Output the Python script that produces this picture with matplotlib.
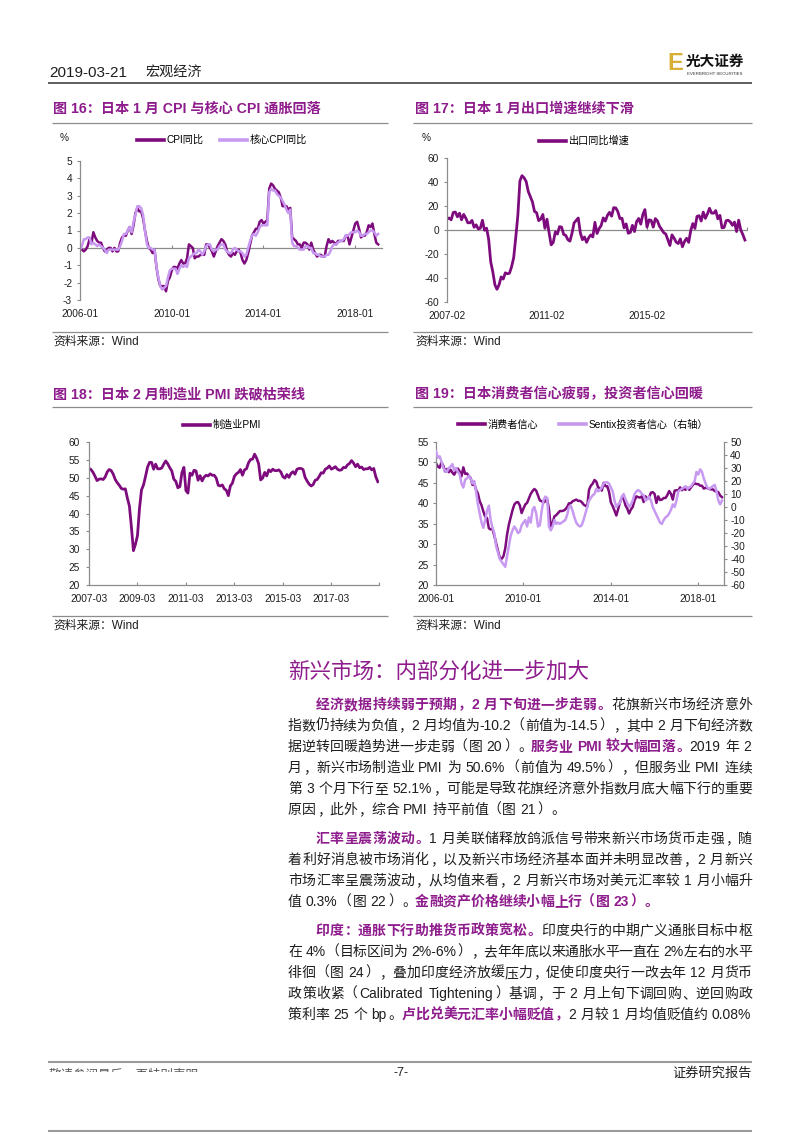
import matplotlib
matplotlib.use('Agg')
import matplotlib.pyplot as plt
import numpy as np
from matplotlib.transforms import Bbox

# ---------------------------------------------------------------- data
cpi_yoy = [
    -0.1, -0.1, -0.2, -0.1, 0.1, 0.5, 0.3, 0.9, 0.6, 0.4, 0.3, 0.3,
    0.0, -0.2, -0.1, 0.0, 0.0, -0.2, 0.0, -0.2, -0.2, 0.3, 0.6, 0.7,
    0.7, 1.0, 1.2, 0.8, 1.3, 2.0, 2.3, 2.1, 2.1, 1.7, 1.0, 0.4,
    0.0, -0.1, -0.3, -0.1, -1.1, -1.8, -2.2, -2.2, -2.2, -2.5, -1.9, -1.7,
    -1.3, -1.1, -1.1, -1.2, -0.9, -0.7, -0.9, -0.9, -0.6, 0.2, 0.1, 0.0,
    -0.6, -0.5, -0.5, -0.4, -0.4, -0.4, 0.2, 0.2, 0.0, -0.2, -0.5, -0.2,
    0.1, 0.3, 0.5, 0.4, 0.2, -0.2, -0.4, -0.5, -0.3, -0.4, -0.2, -0.1,
    -0.3, -0.7, -0.9, -0.7, -0.3, 0.2, 0.7, 0.9, 1.1, 1.1, 1.5, 1.6,
    1.4, 1.5, 1.6, 3.4, 3.7, 3.6, 3.4, 3.3, 3.2, 2.9, 2.4, 2.4,
    2.4, 2.2, 2.3, 0.6, 0.5, 0.4, 0.2, 0.2, 0.0, 0.3, 0.3, 0.2,
    -0.1, 0.3, -0.1, -0.3, -0.5, -0.4, -0.4, -0.5, -0.5, 0.1, 0.5, 0.3,
    0.4, 0.3, 0.2, 0.4, 0.4, 0.4, 0.4, 0.7, 0.7, 0.2, 0.6, 1.0,
    1.4, 1.5, 1.1, 0.6, 0.7, 0.7, 0.9, 1.3, 1.2, 1.4, 0.8, 0.3,
    0.2]
core_cpi_yoy = [
    -0.1, 0.1, 0.5, 0.5, 0.6, 0.6, 0.2, 0.3, 0.2, 0.1, 0.2, 0.1,
    0.0, -0.1, -0.3, -0.1, -0.1, -0.1, -0.1, -0.1, -0.1, 0.1, 0.4, 0.8,
    0.8, 1.0, 1.2, 0.9, 1.5, 1.9, 2.4, 2.4, 2.3, 1.9, 1.0, 0.2,
    0.0, 0.0, -0.1, -0.1, -1.1, -1.7, -2.2, -2.4, -2.3, -2.2, -1.7, -1.3,
    -1.2, -1.2, -1.2, -1.5, -1.2, -1.0, -1.1, -1.0, -1.1, -0.6, -0.5, -0.4,
    -0.3, -0.3, -0.1, -0.2, -0.4, -0.2, 0.1, 0.2, 0.2, -0.1, -0.2, -0.1,
    -0.1, 0.1, 0.2, 0.2, -0.1, -0.2, -0.3, -0.3, -0.1, 0.0, -0.1, -0.2,
    -0.2, -0.3, -0.5, -0.4, 0.0, 0.4, 0.7, 0.8, 0.7, 0.9, 1.2, 1.3,
    1.3, 1.3, 1.3, 3.2, 3.4, 3.3, 3.3, 3.1, 3.0, 2.9, 2.7, 2.5,
    2.2, 2.0, 2.2, 0.3, 0.1, 0.1, 0.0, -0.1, -0.1, -0.1, 0.1, 0.1,
    0.0, 0.0, -0.3, -0.3, -0.4, -0.4, -0.5, -0.5, -0.5, -0.4, -0.4, -0.2,
    0.1, 0.2, 0.2, 0.3, 0.4, 0.4, 0.5, 0.7, 0.7, 0.8, 0.9, 0.9,
    0.9, 1.0, 0.9, 0.7, 0.7, 0.8, 0.8, 0.9, 1.0, 1.0, 0.9, 0.7,
    0.8]
cpi_start = '2006-01'
cpi_tick_labels = ['2006-01', '2010-01', '2014-01', '2018-01']
cpi_yticks = [-3, -2, -1, 0, 1, 2, 3, 4, 5]

export_yoy = [
    9.0, 10.0, 8.5, 14.6, 15.0, 11.0, 14.0, 8.5, 13.0, 10.0, 6.0,
    6.0, 8.0, 2.3, 4.3, 0.9, 1.5, 8.1, -0.2, 1.5, -7.8, -26.7, -35.0,
    -45.7, -49.4, -45.6, -39.1, -40.9, -35.7, -36.5, -36.0, -30.6, -23.2, -6.3, 12.1,
    40.9, 45.3, 43.5, 40.4, 32.1, 27.7, 23.5, 15.5, 14.4, 7.8, 9.1, 12.9,
    1.4, 9.0, -2.2, -12.4, -10.3, -1.6, -3.4, 2.8, 2.4, -3.7, -4.5, -8.0,
    -9.3, -2.7, 5.9, 7.9, 10.0, -2.3, -8.1, -5.8, -10.3, -6.5, -4.1, -5.8,
    6.4, -2.9, 1.1, 3.8, 10.1, 7.4, 12.2, 14.7, 11.5, 18.6, 18.4, 15.3,
    9.5, 9.8, 1.8, 5.1, -2.7, -2.0, 3.9, -1.3, 6.9, 9.6, 4.9, 12.9,
    17.0, 2.4, 8.5, 8.0, 2.4, 9.5, 7.6, 3.1, 0.6, -2.2, -3.3, -8.0,
    -12.9, -4.0, -6.8, -10.1, -11.3, -7.4, -14.0, -9.6, -6.9, -10.3, -0.4, 5.4,
    1.3, 11.3, 12.0, 7.5, 14.9, 9.7, 13.4, 18.1, 14.1, 14.0, 16.2, 9.3,
    12.2, 1.8, 2.1, 7.8, 8.1, 6.7, 3.9, 6.6, -1.3, 8.2, 0.1, -3.8,
    -8.4]
export_start = '2007-02'
export_tick_labels = ['2007-02', '2011-02', '2015-02']
export_yticks = [-60, -40, -20, 0, 20, 40, 60]

pmi = [
    52.6, 52.3, 51.5, 50.4, 49.2, 49.6, 49.7, 49.5, 50.2, 51.6,
    52.3, 52.0, 51.0, 49.5, 48.6, 47.9, 47.0, 46.8, 46.9, 44.3, 42.1, 36.2,
    29.6, 31.4, 33.8, 41.4, 46.6, 48.0, 50.4, 53.0, 54.3, 54.3, 52.4, 53.8,
    52.5, 52.5, 52.7, 53.8, 54.7, 53.9, 52.8, 51.9, 49.6, 49.0, 47.2, 47.5,
    51.4, 52.9, 46.4, 45.7, 51.3, 50.7, 52.1, 51.9, 49.3, 50.6, 49.1, 50.2,
    50.7, 50.5, 51.1, 50.7, 50.7, 49.9, 47.9, 47.7, 48.0, 46.9, 46.5, 45.0,
    47.7, 48.5, 50.4, 51.1, 51.5, 52.3, 50.7, 52.2, 52.5, 54.2, 55.1, 55.2,
    56.6, 55.5, 53.9, 49.4, 49.9, 51.5, 50.5, 52.2, 51.7, 52.4, 52.0, 52.0,
    52.2, 51.6, 50.3, 49.9, 50.9, 50.1, 51.2, 51.7, 51.0, 52.4, 52.6, 52.6,
    52.3, 50.1, 49.1, 48.2, 47.7, 48.1, 49.3, 49.5, 50.4, 51.4, 51.3, 52.4,
    52.7, 53.3, 52.4, 52.7, 53.1, 52.4, 52.1, 52.2, 52.9, 52.8, 53.6, 54.0,
    54.8, 54.1, 53.1, 53.8, 52.8, 53.0, 52.3, 52.5, 52.5, 52.9, 52.2, 52.6,
    50.3, 48.9]
pmi_start = '2007-03'
pmi_tick_labels = ['2007-03', '2009-03', '2011-03', '2013-03', '2015-03', '2017-03']
pmi_yticks = [20, 25, 30, 35, 40, 45, 50, 55, 60]

consumer_conf = [
    49.8, 49.0, 48.7, 50.0, 49.2, 47.8, 48.4, 47.6, 48.2, 47.5, 47.0, 47.9,
    48.5, 47.8, 46.6, 48.8, 47.2, 47.3, 46.7, 46.2, 44.5, 44.8, 43.3, 42.4,
    40.5, 39.5, 38.0, 36.7, 36.4, 33.9, 33.6, 33.8, 32.1, 30.2, 28.4, 26.7,
    26.4, 27.0, 28.9, 32.3, 34.8, 36.6, 38.3, 39.7, 40.2, 40.3, 39.5, 37.6,
    38.7, 39.7, 40.1, 41.2, 42.3, 43.0, 43.5, 43.1, 41.9, 40.7, 40.5, 40.2,
    40.5, 41.0, 38.6, 34.1, 35.2, 36.8, 37.1, 37.6, 38.1, 38.1, 38.2, 38.5,
    39.1, 40.0, 40.0, 40.5, 40.7, 40.9, 40.6, 40.6, 40.3, 39.7, 39.4, 39.2,
    43.3, 44.3, 44.8, 45.7, 45.3, 43.9, 43.7, 43.1, 45.0, 44.2, 44.2, 42.8,
    40.2, 39.3, 38.2, 37.0, 38.6, 40.2, 41.3, 41.2, 39.5, 38.7, 37.5, 38.5,
    39.1, 40.7, 41.7, 41.5, 41.4, 41.7, 40.3, 41.7, 41.1, 41.5, 42.6, 42.7,
    42.3, 40.1, 41.7, 40.8, 40.9, 41.3, 41.3, 42.0, 43.0, 42.3, 40.9, 43.1,
    43.2, 43.1, 43.9, 43.2, 43.6, 43.3, 43.8, 43.3, 43.9, 44.5, 44.9, 44.7,
    44.7, 44.3, 44.3, 43.6, 43.8, 43.7, 43.5, 43.4, 43.4, 43.0, 42.9, 42.7,
    41.9, 41.5]
sentix = [
    43, 38, 39, 35, 30, 28, 27, 30, 31, 33, 28, 30,
    27, 25, 18, 15, 21, 22, 24, 22, 18, 20, 12, 2,
    -5, -12, -16, -10, -3, 1, -10, -16, -20, -30, -35, -40,
    -42, -44, -46, -38, -30, -22, -18, -15, -17, -20, -19, -14,
    -12, -10, -15, -8, -12, -2, 0, -5, -15, -14, -3, 5,
    8, 7, -15, -18, -15, -10, -13, -12, -13, -12, -11, -10,
    -6, 0, 1, -3, -8, -12, -14, -15, -14, -10, -5, 0,
    5, 7, 9, 10, 14, 12, 13, 15, 18, 19, 19, 18,
    15, 12, 5, 0, 2, 3, 8, 10, 6, 3, 0, 2,
    5, 10, 12, 13, 12, 10, 9, 5, 6, 8, 5, 0,
    -3, -6, -9, -12, -13, -10, -8, -7, -5, -2, 2, 0,
    5, 12, 13, 14, 15, 16, 14, 15, 16, 18, 20, 27,
    25, 29, 27, 22, 18, 15, 14, 15, 16, 17, 12, 5,
    2, 5]
conf_start = '2006-01'
conf_tick_labels = ['2006-01', '2010-01', '2014-01', '2018-01']
conf_yticks = [20, 25, 30, 35, 40, 45, 50, 55]
sentix_yticks = [-60, -50, -40, -30, -20, -10, 0, 10, 20, 30, 40, 50]

# ---------------------------------------------------------------- style
W, H = 802, 1133
DARK = '#7D0B7D'
LIGHT = '#C899F0'
PURPLE = '#8E1C8C'
GREY = '#8C8C8C'
TXT = '#1E1E1E'
LAT = 'Liberation Sans'
CJK = 'Noto Sans CJK SC'
MIX = [LAT, CJK]
plt.rcParams['font.family'] = MIX
plt.rcParams['axes.unicode_minus'] = False

fig = plt.figure(figsize=(W / 100, H / 100), dpi=100)
fig.patch.set_facecolor('white')
page = fig.add_axes([0, 0, 1, 1])
page.set_xlim(0, W)
page.set_ylim(H, 0)
page.axis('off')


def ax_rect(x0, y0, x1, y1):
    a = fig.add_axes([x0 / W, 1 - y1 / H, (x1 - x0) / W, (y1 - y0) / H])
    a.set_facecolor('none')
    for s in a.spines.values():
        s.set_visible(False)
    return a


def month_pos(label, start):
    y, m = map(int, label.split('-'))
    y0, m0 = map(int, start.split('-'))
    return (y - y0) * 12 + (m - m0)


def hline(y, x0, x1, color=GREY, lw=0.9):
    page.plot([x0, x1], [y, y], color=color, lw=lw, solid_capstyle='butt')


TICK_FS = 7.3


def yaxis_style(a, side='left', pad=3.2):
    a.spines[side].set_visible(True)
    a.spines[side].set_color(GREY)
    a.spines[side].set_linewidth(0.9)
    a.tick_params(axis='y', length=2.5, width=0.8, color=GREY,
                  labelsize=TICK_FS, pad=pad, labelcolor=TXT)


def legend(a, handles, labels, cx, cy, colsp=1.6):
    lg = a.legend(handles, labels, loc='center', ncol=len(handles),
                  bbox_to_anchor=(cx / W, 1 - cy / H), bbox_transform=fig.transFigure,
                  frameon=False, handlelength=2.7, handletextpad=0.25,
                  columnspacing=colsp, prop={'size': TICK_FS, 'family': MIX},
                  borderpad=0, borderaxespad=0)
    for h in lg.legend_handles:
        h.set_linewidth(2.6)
    return lg


# ---------------------------------------------------------------- header
page.text(49, 73, '2019-03-21', fontsize=11, family=LAT, color=TXT, va='center')
page.text(145, 73, '宏观经济', fontsize=10.2, family=CJK, color=TXT, va='center')
hline(83, 48, 752, color='#333333', lw=1.1)
page.text(667, 63, 'E', fontsize=17, family=LAT, weight='bold', color='#D9AE34', va='center')
page.text(686, 61, '光大证券', fontsize=10.5, family=CJK, weight='bold', color='#111111', va='center')
page.text(687, 74, 'EVERBRIGHT SECURITIES', fontsize=3.2, family=LAT, color='#333333', va='center')

# ---------------------------------------------------------------- section titles / frames
title_kw = dict(fontsize=10.2, weight='bold', color=PURPLE, va='center', family=MIX)
page.text(53, 109, '图 16：日本 1 月 CPI 与核心 CPI 通胀回落', **title_kw)
page.text(415, 109, '图 17：日本 1 月出口增速继续下滑', **title_kw)
page.text(53, 394, '图 18：日本 2 月制造业 PMI 跌破枯荣线', **title_kw)
page.text(415, 394, '图 19：日本消费者信心疲弱，投资者信心回暖', **title_kw)
for y in (123, 332):
    hline(y, 52, 388)
    hline(y, 413, 752)
for y in (407, 616):
    hline(y, 52, 388)
    hline(y, 413, 752)
src_kw = dict(fontsize=8.5, color=TXT, va='center', family=MIX)
for (sx, sy) in ((53, 342), (415, 342), (53, 626), (415, 626)):
    page.text(sx, sy, '资料来源：Wind', **src_kw)

# ---------------------------------------------------------------- chart 16
a16 = ax_rect(80, 161, 382, 300)
x16 = np.arange(len(cpi_yoy))
l1, = a16.plot(x16, cpi_yoy, color=DARK, lw=1.8, solid_joinstyle='round')
l2, = a16.plot(x16, core_cpi_yoy, color=LIGHT, lw=1.8, solid_joinstyle='round')
a16.set_xlim(0, 158)
a16.set_ylim(-3, 5)
a16.set_yticks(cpi_yticks)
yaxis_style(a16)
pos16 = [month_pos(t, cpi_start) for t in cpi_tick_labels]
a16.set_xticks(pos16, cpi_tick_labels)
a16.tick_params(axis='x', length=0, pad=6.5, labelsize=TICK_FS, labelcolor=TXT)
z16 = a16.secondary_xaxis(3 / 8)
z16.set_xticks(pos16[1:])
z16.tick_params(direction='in', length=2.5, color=GREY, labelbottom=False)
z16.spines['bottom'].set_color(GREY)
z16.spines['bottom'].set_linewidth(0.9)
page.text(64.5, 138, '%', fontsize=TICK_FS, color=TXT, ha='center', va='center')
legend(a16, [l1, l2], ['CPI同比', '核心CPI同比'], 222, 140)

# ---------------------------------------------------------------- chart 17
a17 = ax_rect(447, 158, 747, 302)
x17 = np.arange(len(export_yoy))
l3, = a17.plot(x17, export_yoy, color=DARK, lw=2.0, solid_joinstyle='round')
a17.set_xlim(0, 144)
a17.set_ylim(-60, 60)
a17.set_yticks(export_yticks)
yaxis_style(a17)
pos17 = [month_pos(t, export_start) for t in export_tick_labels]
a17.set_xticks(pos17, export_tick_labels)
a17.tick_params(axis='x', length=0, pad=6.5, labelsize=TICK_FS, labelcolor=TXT)
z17 = a17.secondary_xaxis(0.4999)
z17.set_xticks(pos17[1:] + [144])
z17.tick_params(direction='in', length=2.5, color=GREY, labelbottom=False)
z17.spines['bottom'].set_color(GREY)
z17.spines['bottom'].set_linewidth(0.9)
page.text(426, 138, '%', fontsize=TICK_FS, color=TXT, ha='center', va='center')
legend(a17, [l3], ['出口同比增速'], 584, 141)

# ---------------------------------------------------------------- chart 18
a18 = ax_rect(89, 442, 379, 585)
x18 = np.arange(len(pmi))
l4, = a18.plot(x18, pmi, color=DARK, lw=2.0, solid_joinstyle='round')
a18.set_xlim(0, 143.6)
a18.set_ylim(20, 60)
a18.set_yticks(pmi_yticks)
yaxis_style(a18, pad=4)
pos18 = [month_pos(t, pmi_start) for t in pmi_tick_labels]
a18.set_xticks(pos18 + [143.6], pmi_tick_labels + [''])
a18.spines['bottom'].set_visible(True)
a18.spines['bottom'].set_color(GREY)
a18.spines['bottom'].set_linewidth(0.9)
a18.tick_params(axis='x', direction='in', length=2.5, color=GREY, pad=6.5,
                labelsize=TICK_FS, labelcolor=TXT)
legend(a18, [l4], ['制造业PMI'], 222, 425)

# ---------------------------------------------------------------- chart 19
a19 = ax_rect(436, 442, 724, 585)
x19 = np.arange(len(consumer_conf))
a19r = a19.twinx()
a19r.set_facecolor('none')
for s in a19r.spines.values():
    s.set_visible(False)
l5, = a19.plot(x19, consumer_conf, color=DARK, lw=1.8, solid_joinstyle='round', zorder=2)
l6, = a19r.plot(x19, sentix, color=LIGHT, lw=1.8, solid_joinstyle='round')
a19.set_xlim(0, 158.1)
a19.set_ylim(20, 55)
a19.set_yticks(conf_yticks)
yaxis_style(a19, pad=2.5)
a19r.set_ylim(-60, 50)
a19r.set_yticks(sentix_yticks)
yaxis_style(a19r, side='right', pad=2)
pos19 = [month_pos(t, conf_start) for t in conf_tick_labels]
a19.set_xticks(pos19, conf_tick_labels)
a19.spines['bottom'].set_visible(True)
a19.spines['bottom'].set_color(GREY)
a19.spines['bottom'].set_linewidth(0.9)
a19.tick_params(axis='x', direction='in', length=2.5, color=GREY, pad=6.5,
                labelsize=TICK_FS, labelcolor=TXT)
legend(a19r, [l5, l6], ['消费者信心', 'Sentix投资者信心（右轴）'], 583, 425, colsp=2.0)

# ---------------------------------------------------------------- body text
page.text(288, 672, '新兴市场：内部分化进一步加大', fontsize=15.5, family=CJK,
          color=PURPLE, va='center')

BODY_PT = 10.0
EM = BODY_PT * 100 / 72
renderer = fig.canvas.get_renderer()
_wcache = {}
LEFT_P = set('，。、：；）」')
RIGHT_P = set('（「')


def is_cjk(tok):
    return len(tok) == 1 and ord(tok) > 0x2E7F


def tokenize(s):
    toks, buf = [], ''
    for ch in s:
        if is_cjk(ch) or ch == ' ':
            if buf:
                toks.append(buf)
                buf = ''
            toks.append(ch)
        else:
            buf += ch
    if buf:
        toks.append(buf)
    return toks


def tok_width(tok, bold):
    if tok == ' ':
        return 0.26 * EM
    if is_cjk(tok):
        return EM
    key = (tok, bold)
    if key not in _wcache:
        t = page.text(0, 0, tok, fontsize=BODY_PT, family=LAT,
                      weight='bold' if bold else 'normal')
        _wcache[key] = t.get_window_extent(renderer).width + 1.5
        t.remove()
    return _wcache[key]


def draw_line(segments, x0, x1, yc, justify=True):
    toks = []
    for text, bold in segments:
        for tk in tokenize(text):
            toks.append((tk, bold))
    widths = [tok_width(t, b) for t, b in toks]
    extra = (x1 - x0 - sum(widths)) / (len(toks) - 1) if justify else 0.0
    x = x0
    yb = yc + 0.36 * EM
    for (tk, b), w in zip(toks, widths):
        if tk != ' ':
            kw = dict(fontsize=BODY_PT, color=PURPLE if b else TXT,
                      weight='bold' if b else 'normal', va='baseline')
            if is_cjk(tk):
                if tk in LEFT_P:
                    page.text(x + 0.06 * EM, yb, tk, family=CJK, ha='left', **kw)
                elif tk in RIGHT_P:
                    page.text(x + 0.94 * EM, yb, tk, family=CJK, ha='right', **kw)
                else:
                    page.text(x + EM / 2, yb, tk, family=CJK, ha='center', **kw)
            else:
                page.text(x + 0.5, yb, tk, family=LAT, ha='left', **kw)
        x += w + extra


LX0, LX1 = 288, 752
IND = 2 * EM
paragraphs = [
    [
        ([('经济数据持续弱于预期，2 月下旬进一步走弱。', True), ('花旗新兴市场经济意外', False)], 704, True, True),
        ([('指数仍持续为负值，2 月均值为-10.2（前值为-14.5），其中 2 月下旬经济数', False)], 725, False, True),
        ([('据逆转回暖趋势进一步走弱（图 20）。', False), ('服务业 PMI 较大幅回落。', True), ('2019 年 2', False)], 746, False, True),
        ([('月，新兴市场制造业 PMI 为 50.6%（前值为 49.5%），但服务业 PMI 连续', False)], 767, False, True),
        ([('第 3 个月下行至 52.1%，可能是导致花旗经济意外指数月底大幅下行的重要', False)], 788, False, True),
        ([('原因，此外，综合 PMI 持平前值（图 21）。', False)], 809, False, False),
    ],
    [
        ([('汇率呈震荡波动。', True), ('1 月美联储释放鸽派信号带来新兴市场货币走强，随', False)], 838, True, True),
        ([('着利好消息被市场消化，以及新兴市场经济基本面并未明显改善，2 月新兴', False)], 859, False, True),
        ([('市场汇率呈震荡波动，从均值来看，2 月新兴市场对美元汇率较 1 月小幅升', False)], 880, False, True),
        ([('值 0.3%（图 22）。', False), ('金融资产价格继续小幅上行（图 23）。', True)], 901, False, False),
    ],
    [
        ([('印度：通胀下行助推货币政策宽松。', True), ('印度央行的中期广义通胀目标中枢', False)], 930, True, True),
        ([('在 4%（目标区间为 2%-6%），去年年底以来通胀水平一直在 2%左右的水平', False)], 951, False, True),
        ([('徘徊（图 24），叠加印度经济放缓压力，促使印度央行一改去年 12 月货币', False)], 972, False, True),
        ([('政策收紧（Calibrated Tightening）基调，于 2 月上旬下调回购、逆回购政', False)], 993, False, True),
        ([('策利率 25 个 bp。', False), ('卢比兑美元汇率小幅贬值，', True), ('2 月较 1 月均值贬值约 0.08%', False)], 1014, False, True),
    ],
]
for para in paragraphs:
    for segs, yc, indent, just in para:
        draw_line(segs, LX0 + (IND if indent else 0), LX1, yc, justify=just)

# ---------------------------------------------------------------- footer
hline(1062, 48, 752, color='#9A9A9A', lw=1.5)
ft = page.text(49, 1075, '敬请参阅最后一页特别声明', fontsize=9, family=CJK, color='#555555', va='center')
ft.set_clip_on(True)
ft.set_clip_path(None)
ft.set_clip_box(Bbox([[40, H - 1072], [400, H - 1063]]))
page.text(401, 1073, '-7-', fontsize=9, family=LAT, color=TXT, ha='center', va='center')
page.text(752, 1073, '证券研究报告', fontsize=9.5, family=CJK, color=TXT, ha='right', va='center')
hline(1131, 48, 752, color='#9A9A9A', lw=1.5)

fig.savefig('out.png', dpi=100, facecolor='white')
